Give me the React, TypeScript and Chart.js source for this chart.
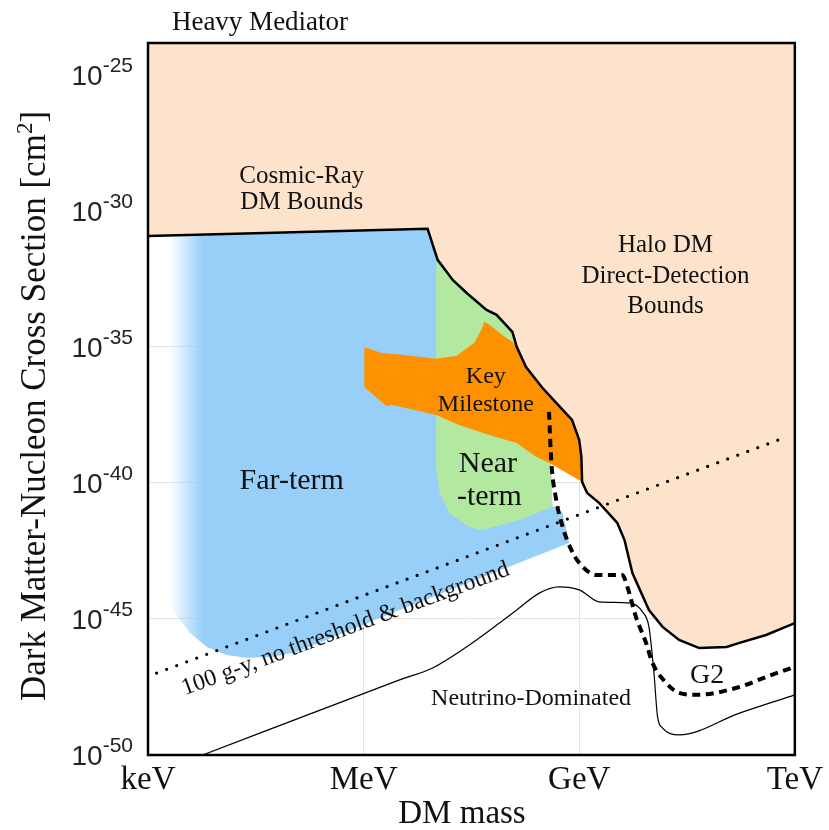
import React, { useEffect, useRef } from 'react';
import { Chart, registerables } from 'chart.js';

Chart.register(...registerables);

// x = log10(DM mass / GeV), y = log10(cross section / cm^2)
const xTickValues = [-6, -3, 0, 3];
const xTickLabels = ['keV', 'MeV', 'GeV', 'TeV'];
const yTickValues = [-50, -45, -40, -35, -30, -25];

// Cosmic-ray + halo direct-detection exclusion boundary
const haloBoundX = [-6.0, -2.11, -1.97, -1.76, -1.57, -1.29, -1.15, -0.93, -0.87, -0.74, -0.51, -0.32, -0.1, 0.0, 0.03, 0.04, 0.11, 0.28, 0.53, 0.63, 0.74, 0.97, 1.16, 1.39, 1.67, 2.05, 2.23, 2.6, 3.0];
const haloBoundY = [-30.92, -30.66, -31.8, -32.54, -33.01, -33.64, -33.82, -34.45, -35.0, -35.74, -36.51, -37.06, -37.68, -38.42, -39.04, -39.96, -40.37, -40.74, -41.47, -42.1, -43.31, -44.67, -45.29, -45.77, -46.07, -46.03, -45.88, -45.59, -45.15];

// Far-term region outline
const farX = [-6.0, -2.11, -1.94, -0.83, -0.42, -0.39, -0.23, -0.14, -2.5, -3.93, -4.27, -4.63, -4.91, -5.18, -5.42, -5.66, -5.84, -5.98];
const farY = [-30.92, -30.66, -31.87, -34.74, -37.68, -40.81, -41.1, -42.21, -44.67, -46.21, -46.4, -46.43, -46.32, -46.03, -45.51, -44.67, -43.75, -42.65];

// Near-term region outline
const nearX = [-1.99, -1.76, -1.57, -1.29, -1.15, -0.93, -0.87, -0.74, -0.51, -0.39, -0.39, -0.37, -0.83, -1.35, -1.53, -1.81, -1.94, -1.99];
const nearY = [-31.87, -32.54, -33.01, -33.64, -33.82, -34.45, -35.0, -35.74, -36.51, -37.32, -39.26, -40.88, -41.36, -41.73, -41.62, -41.1, -40.37, -39.52];

// Key milestone region outline
const keyX = [-2.99, -2.75, -2.46, -1.99, -1.71, -1.46, -1.36, -1.32, -1.25, -1.07, -0.93, -0.87, -0.74, -0.51, -0.32, -0.1, 0.0, 0.03, 0.04, -0.42, -0.6, -0.87, -1.25, -1.67, -1.99, -2.61, -2.68, -2.82, -2.99];
const keyY = [-35.0, -35.22, -35.29, -35.44, -35.33, -34.85, -34.37, -34.08, -34.19, -34.56, -34.82, -35.0, -35.74, -36.51, -37.06, -37.68, -38.42, -39.04, -39.96, -39.26, -39.04, -38.53, -38.24, -37.87, -37.5, -37.13, -37.17, -36.87, -36.47];

// 100 g-y, no threshold & background
const exposureX = [-5.88, 2.81];
const exposureY = [-46.99, -38.38];

// G2 projected sensitivity
const g2X = [-0.42, -0.39, -0.32, -0.23, -0.11, 0.0, 0.24, 0.6, 0.67, 0.79, 0.93, 1.02, 1.21, 1.39, 1.63, 2.23, 2.6, 3.0];
const g2Y = [-37.39, -39.15, -40.62, -41.62, -42.46, -42.94, -43.38, -43.38, -43.82, -44.93, -45.88, -46.62, -47.35, -47.72, -47.79, -47.5, -47.13, -46.76];

// Neutrino floor
const nuX = [-5.24, -2.5, -2.04, -1.57, -1.11, -0.87, -0.55, -0.28, 0.0, 0.28, 0.7, 0.88, 0.97, 1.04, 1.09, 1.16, 1.39, 2.23, 3.0];
const nuY = [-50.0, -47.24, -46.8, -46.03, -45.15, -44.67, -44.04, -43.82, -43.93, -44.37, -44.41, -44.74, -45.29, -46.99, -48.6, -49.01, -49.26, -48.46, -47.79];

const SERIF = '"Liberation Serif", "Times New Roman", Times, serif';
const SANS = '"Liberation Sans", Arial, Helvetica, sans-serif';

const PEACH = '#fde3cb';
const BLUE_RGB = '151, 207, 249';
const GREEN = '#b3e8a1';
const ORANGE = '#fd9100';
const FADE_START = -5.7;
const FADE_END = -5.24;

const regionLabels = [
  { text: 'Cosmic-Ray', x: -3.86, y: -28.97, size: 25 },
  { text: 'DM Bounds', x: -3.86, y: -29.93, size: 25 },
  { text: 'Halo DM', x: 1.2, y: -31.51, size: 25 },
  { text: 'Direct-Detection', x: 1.2, y: -32.65, size: 25 },
  { text: 'Bounds', x: 1.2, y: -33.75, size: 25 },
  { text: 'Far-term', x: -4.0, y: -40.22, size: 30 },
  { text: 'Key', x: -1.3, y: -36.32, size: 24 },
  { text: 'Milestone', x: -1.3, y: -37.35, size: 24 },
  { text: 'Near', x: -1.27, y: -39.6, size: 30 },
  { text: '-term', x: -1.25, y: -40.81, size: 30 },
  { text: 'G2', x: 1.78, y: -47.35, size: 28 },
  { text: 'Neutrino-Dominated', x: -0.67, y: -48.16, size: 24 },
];

const zip = (xs: number[], ys: number[]) => xs.map((x, i) => ({ x, y: ys[i] }));

export default function App() {
  const ref = useRef<HTMLCanvasElement>(null);

  useEffect(() => {
    const canvas = ref.current;
    if (!canvas) return;

    const decorPlugin = {
      id: 'decor',
      afterDatasetsDraw(chart: any) {
        const ctx = chart.ctx as CanvasRenderingContext2D;
        const xs = chart.scales.x;
        const ys = chart.scales.y;
        const area = chart.chartArea;
        ctx.save();
        ctx.fillStyle = '#111';
        ctx.textAlign = 'center';
        ctx.textBaseline = 'alphabetic';
        for (const l of regionLabels) {
          ctx.font = `${l.size}px ${SERIF}`;
          ctx.fillText(l.text, xs.getPixelForValue(l.x), ys.getPixelForValue(l.y));
        }
        // rotated exposure label
        ctx.save();
        ctx.translate(xs.getPixelForValue(-3.22), ys.getPixelForValue(-45.59));
        ctx.rotate((-20.3 * Math.PI) / 180);
        ctx.font = `24px ${SERIF}`;
        ctx.fillText('100 g-y, no threshold & background', 0, 0);
        ctx.restore();

        // frame
        ctx.strokeStyle = '#000';
        ctx.lineWidth = 2.5;
        ctx.strokeRect(area.left, area.top, area.right - area.left, area.bottom - area.top);
        ctx.restore();
      },
      afterDraw(chart: any) {
        const ctx = chart.ctx as CanvasRenderingContext2D;
        const ys = chart.scales.y;
        const area = chart.chartArea;
        ctx.save();
        // y tick labels 10^n
        for (const t of ys.ticks) {
          const py = ys.getPixelForValue(t.value);
          const base = '10';
          const sup = String(t.value);
          ctx.font = `28px ${SANS}`;
          const wb = ctx.measureText(base).width;
          ctx.font = `21px ${SANS}`;
          const ws = ctx.measureText(sup).width;
          const right = area.left - 15;
          const x0 = right - ws - wb;
          ctx.fillStyle = '#222';
          ctx.textAlign = 'left';
          ctx.textBaseline = 'alphabetic';
          ctx.font = `28px ${SANS}`;
          ctx.fillText(base, x0, py + 10);
          ctx.font = `21px ${SANS}`;
          ctx.fillText(sup, x0 + wb, py - 3);
        }
        // y axis title
        ctx.fillStyle = '#111';
        ctx.save();
        ctx.translate(45, (area.top + area.bottom) / 2 + 7);
        ctx.rotate(-Math.PI / 2);
        const main = 'Dark Matter-Nucleon Cross Section [cm';
        ctx.font = `35px ${SERIF}`;
        const w1 = ctx.measureText(main).width;
        const w3 = ctx.measureText(']').width;
        ctx.font = `23px ${SERIF}`;
        const w2 = ctx.measureText('2').width;
        let x = -(w1 + w2 + w3) / 2;
        ctx.textAlign = 'left';
        ctx.font = `35px ${SERIF}`;
        ctx.fillText(main, x, 0);
        x += w1;
        ctx.font = `23px ${SERIF}`;
        ctx.fillText('2', x, -13);
        x += w2;
        ctx.font = `35px ${SERIF}`;
        ctx.fillText(']', x, 0);
        ctx.restore();
        // x axis title
        ctx.textAlign = 'center';
        ctx.font = `33px ${SERIF}`;
        ctx.fillText('DM mass', 462, 823);
        // panel title
        ctx.font = `27px ${SERIF}`;
        ctx.fillText('Heavy Mediator', 260, 30);
        ctx.restore();
      },
    };

    const chart = new Chart(canvas, {
      type: 'line',
      data: {
        datasets: [
          {
            label: '100 g-y, no threshold & background',
            data: zip(exposureX, exposureY),
            borderColor: '#000',
            borderWidth: 3.2,
            borderDash: [0, 10.7],
            borderCapStyle: 'round',
            pointRadius: 0,
            fill: false,
            order: 1,
          },
          {
            label: 'G2',
            data: zip(g2X, g2Y),
            borderColor: '#000',
            borderWidth: 4,
            borderDash: [8, 5.5],
            pointRadius: 0,
            cubicInterpolationMode: 'monotone',
            fill: false,
            order: 2,
          },
          {
            label: 'Neutrino floor',
            data: zip(nuX, nuY),
            borderColor: '#000',
            borderWidth: 1.2,
            pointRadius: 0,
            cubicInterpolationMode: 'monotone',
            fill: false,
            order: 3,
          },
          {
            label: 'Excluded',
            data: zip(haloBoundX, haloBoundY),
            borderColor: '#000',
            borderWidth: 2.5,
            backgroundColor: PEACH,
            pointRadius: 0,
            tension: 0,
            fill: 'end',
            order: 4,
          },
          {
            label: 'Key Milestone',
            data: zip(keyX, keyY),
            borderColor: 'rgba(0,0,0,0)',
            borderWidth: 0,
            backgroundColor: ORANGE,
            pointRadius: 0,
            tension: 0,
            fill: 'shape',
            order: 5,
          },
          {
            label: 'Near-term',
            data: zip(nearX, nearY),
            borderColor: 'rgba(0,0,0,0)',
            borderWidth: 0,
            backgroundColor: GREEN,
            pointRadius: 0,
            tension: 0,
            fill: 'shape',
            order: 6,
          },
          {
            label: 'Far-term',
            data: zip(farX, farY),
            borderColor: 'rgba(0,0,0,0)',
            borderWidth: 0,
            backgroundColor: (c: any) => {
              const ch = c.chart;
              const xs = ch.scales?.x;
              if (!xs || !ch.chartArea) return `rgb(${BLUE_RGB})`;
              const g = ch.ctx.createLinearGradient(xs.getPixelForValue(FADE_START), 0, xs.getPixelForValue(FADE_END), 0);
              g.addColorStop(0, `rgba(${BLUE_RGB}, 0)`);
              g.addColorStop(1, `rgba(${BLUE_RGB}, 1)`);
              return g;
            },
            pointRadius: 0,
            tension: 0,
            fill: 'shape',
            order: 7,
          },
        ] as any,
      },
      options: {
        responsive: false,
        animation: false,
        events: [],
        layout: { padding: { left: 0, top: 43, right: 33, bottom: 0 } },
        plugins: {
          legend: { display: false },
          tooltip: { enabled: false },
          title: { display: false },
        },
        scales: {
          x: {
            type: 'linear',
            min: -6,
            max: 3,
            afterFit: (s: any) => {
              s.height = 75;
            },
            afterBuildTicks: (s: any) => {
              s.ticks = xTickValues.map((v) => ({ value: v }));
            },
            ticks: {
              stepSize: 3,
              includeBounds: false,
              padding: 6,
              color: '#111',
              font: { family: SERIF, size: 33 },
              maxRotation: 0,
              autoSkip: false,
              callback: (v: any) => {
                const i = xTickValues.indexOf(Number(v));
                return i >= 0 ? xTickLabels[i] : '';
              },
            },
            grid: { color: '#e4e4e4', lineWidth: 1, drawTicks: false },
            border: { display: false },
          },
          y: {
            type: 'linear',
            min: -50,
            max: -23.83,
            afterFit: (s: any) => {
              s.width = 148;
            },
            afterBuildTicks: (s: any) => {
              s.ticks = yTickValues.map((v) => ({ value: v }));
            },
            ticks: { display: false, stepSize: 5, includeBounds: false },
            grid: { color: '#e4e4e4', lineWidth: 1, drawTicks: false },
            border: { display: false },
          },
        },
      } as any,
      plugins: [decorPlugin],
    });

    return () => chart.destroy();
  }, []);

  return (
    <div style={{ position: 'absolute', left: 0, top: 0, width: 829, height: 830, background: '#fff' }}>
      <canvas ref={ref} width={829} height={830} style={{ display: 'block', width: 829, height: 830 }} />
    </div>
  );
}
